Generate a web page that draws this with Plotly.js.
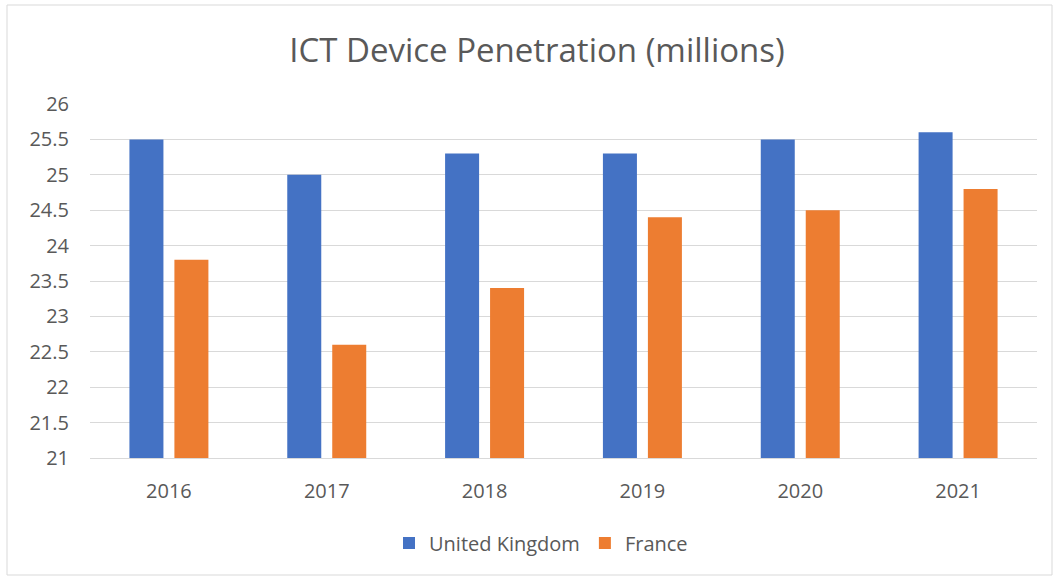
<!DOCTYPE html>
<html>
<head>
<meta charset="utf-8">
<script src="https://cdn.plot.ly/plotly-3.0.1.min.js"></script>
<style>html,body{margin:0;padding:0;background:#fff;}#chart{width:1055px;height:578px;}</style>
</head>
<body>
<div id="chart"></div>
<script>
const years = ['2016', '2017', '2018', '2019', '2020', '2021'];
const ukValues = [25.5, 25.0, 25.3, 25.3, 25.5, 25.6];
const franceValues = [23.8, 22.6, 23.4, 24.4, 24.5, 24.8];
const yTicks = [21, 21.5, 22, 22.5, 23, 23.5, 24, 24.5, 25, 25.5, 26];

const L = 90, R = 18, T = 104, B = 120, W = 1055, H = 578;
const pw = W - L - R, ph = H - T - B;
const fx = px => (px - L) / pw;
const fy = py => (H - B - py) / ph;

const font = "Open Sans, Noto Sans, sans-serif";
const data = [
  {type: 'bar', name: 'United Kingdom', x: years, y: ukValues, marker: {color: '#4472C4'}},
  {type: 'bar', name: 'France', x: years, y: franceValues, marker: {color: '#ED7D31'}}
];

const layout = {
  width: W, height: H,
  margin: {l: L, r: R, t: T, b: B},
  paper_bgcolor: '#fff', plot_bgcolor: '#fff',
  title: {text: 'ICT Device Penetration (millions)', xref: 'paper', x: fx(537), xanchor: 'center', y: 1 - 50/H, yanchor: 'middle',
          font: {family: font, size: 33, color: '#595959'}},
  barmode: 'group', bargap: 0.43, bargroupgap: 0.244,
  xaxis: {type: 'category', showgrid: false, showline: true, linecolor: '#d9d9d9', linewidth: 1,
          ticks: '', tickfont: {family: font, size: 20, color: '#595959'}, ticklabelstandoff: 15},
  yaxis: {range: [21, 26], tickvals: yTicks, ticktext: yTicks.map(String), showgrid: true,
          gridcolor: '#d9d9d9', gridwidth: 1, zeroline: false, showline: false, ticks: '',
          tickfont: {family: font, size: 20, color: '#595959'}, ticklabelstandoff: 20},
  showlegend: true,
  legend: {orientation: 'h', x: fx(541), xanchor: 'center', y: fy(543), yanchor: 'middle',
           font: {family: font, size: 20, color: '#595959'}, itemwidth: 20, tracegroupgap: 0},
  shapes: [{type: 'rect', xref: 'paper', yref: 'paper', x0: fx(7), x1: fx(1052), y0: fy(575), y1: fy(5),
            line: {color: '#d9d9d9', width: 1}, fillcolor: 'rgba(0,0,0,0)', layer: 'below'}]
};
Plotly.newPlot('chart', data, layout, {displayModeBar: false, staticPlot: true});
</script>
</body>
</html>
